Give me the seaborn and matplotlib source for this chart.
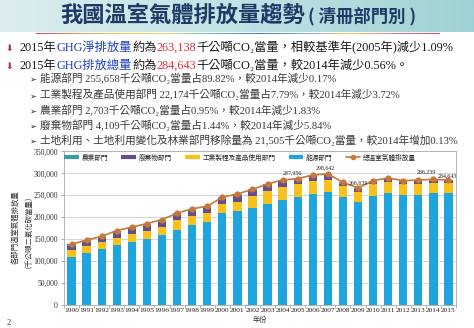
import numpy as np
import matplotlib
matplotlib.use("Agg")
import matplotlib.pyplot as plt
from matplotlib.colors import LinearSegmentedColormap
from matplotlib.lines import Line2D
import seaborn as sns

# ---- data (千公噸CO2當量) ----
years = ["1990", "1991", "1992", "1993", "1994", "1995", "1996", "1997", "1998",
         "1999", "2000", "2001", "2002", "2003", "2004", "2005", "2006", "2007",
         "2008", "2009", "2010", "2011", "2012", "2013", "2014", "2015"]
energy = [109100, 118900, 127300, 135600, 143900, 150800, 159100, 171200, 181500,
          190200, 209100, 213600, 221200, 231100, 239400, 246200, 253000, 256800,
          245500, 234100, 249300, 255300, 251500, 251500, 256093, 255658]
industrial = [16700, 15200, 15900, 18200, 18200, 18900, 19700, 22000, 21200,
              19700, 21200, 22000, 26500, 29500, 30300, 28800, 30300, 28100,
              25000, 22700, 25700, 25000, 24300, 24300, 23031, 22174]
waste = [8100, 8900, 9000, 11300, 10700, 11400, 11400, 11500, 12300,
         11000, 11200, 13600, 12500, 11900, 12000, 9800, 9800, 10700,
         6200, 6900, 5500, 6300, 4700, 6300, 4364, 4109]
agriculture = [4700, 4700, 4600, 4600, 4500, 4500, 4500, 4400, 4300,
               4100, 4000, 3800, 3400, 3300, 3200, 3200, 3100, 3000,
               2900, 2900, 2800, 2800, 2800, 2800, 2753, 2703]
total = [138600, 147700, 156800, 169700, 177300, 185600, 194700, 209100, 219300,
         225000, 245500, 253000, 263600, 275800, 284900, 287956, 296200, 298642,
         279600, 266639, 283300, 289400, 283300, 284900, 286239, 284643]
labeled_years = ["2005", "2007", "2009", "2014", "2015"]

sector_names = ["能源部門", "工業製程及產品使用部門", "廢棄物部門", "農業部門"]
legend_order = ["農業部門", "廢棄物部門", "工業製程及產品使用部門", "能源部門"]
total_name = "總溫室氣體排放量"

C_ENERGY = "#1ea5de"
C_IND = "#f9c11c"
C_WASTE = "#654e8e"
C_AGRI = "#3a9ea5"
C_TOTAL = "#c8773a"
sector_colors = dict(zip(sector_names, [C_ENERGY, C_IND, C_WASTE, C_AGRI]))

sns.set_theme(style="white")
CJK = ["Liberation Serif", "Noto Sans CJK TC", "DejaVu Sans"]
SANS_CJK = ["Noto Sans CJK TC", "DejaVu Sans"]
plt.rcParams["font.family"] = CJK

W, H = 474, 328
fig = plt.figure(figsize=(W / 100, H / 100), dpi=100)
fig.patch.set_facecolor("white")


def fx(px):
    return px / W


def fy(py):
    return 1 - py / H


# ---- header band ----
hdr = fig.add_axes([0, fy(32), 1, 32 / H])
hdr.axis("off")
grad = np.linspace(0, 1, 256)[None, :]
hdr_cmap = LinearSegmentedColormap.from_list("hdr", ["#dcedef", "#c2e2e4", "#9fd2d4"])
hdr.imshow(grad, aspect="auto", cmap=hdr_cmap, extent=[0, 1, 0, 1])
hdr.set_xlim(0, 1)
hdr.set_ylim(0, 1)

bar_ax = fig.add_axes([fx(36), fy(34.5), fx(440) - fx(36), 2 / H])
bar_ax.axis("off")
rb_cmap = LinearSegmentedColormap.from_list(
    "rb", ["#d6437f", "#f0a050", "#f6d23a", "#d8e07a", "#59b8c8", "#3c7fc4",
           "#7fb0d8", "#f2cf55", "#e77a9a", "#d6437f"])
bar_ax.imshow(grad, aspect="auto", cmap=rb_cmap, extent=[0, 1, 0, 1])

renderer = fig.canvas.get_renderer()


def rich(x_px, y_px, pieces, size, family=CJK, **kw):
    x = x_px
    for txt, color in pieces:
        t = fig.text(fx(x), fy(y_px), txt, fontsize=size, color=color,
                     family=family, va="baseline", ha="left", **kw)
        x += t.get_window_extent(renderer=renderer).width
    return x


NAVY = "#1f3a66"
end = rich(60, 21.5, [("我國溫室氣體排放量趨勢", NAVY)], 16, family=SANS_CJK, weight="bold")
rich(end + 3, 21, [("( 清冊部門別 )", NAVY)], 12.5, family=SANS_CJK, weight="bold")

# ---- bullet text ----
DARK = "#1a1a1a"
BLUE = "#1d3fc0"
RED = "#e2303c"
SUB = "#3a3a3a"

for yb in (51, 69):
    fig.text(fx(5), fy(yb), "⬇", fontsize=6.5, color="#a8305a",
             family=["DejaVu Sans"], va="baseline", ha="left")

rich(20, 51, [("2015年", DARK), ("GHG淨排放量", BLUE), ("約為", DARK), ("263,138", RED),
              ("千公噸CO₂當量，相較基準年(2005年)減少1.09%", DARK)], 8.8)
rich(20, 69, [("2015年", DARK), ("GHG排放總量", BLUE), ("約為", DARK), ("284,643", RED),
              ("千公噸CO₂當量，較2014年減少0.56%。", DARK)], 8.8)

sub_lines = [
    "能源部門 255,658千公噸CO₂當量占89.82%，較2014年減少0.17%",
    "工業製程及產品使用部門 22,174千公噸CO₂當量占7.79%，較2014年減少3.72%",
    "農業部門 2,703千公噸CO₂當量占0.95%，較2014年減少1.83%",
    "廢棄物部門 4,109千公噸CO₂當量占1.44%，較2014年減少5.84%",
    "土地利用、土地利用變化及林業部門移除量為 21,505千公噸CO₂當量，較2014年增加0.13%",
]
for yb, line in zip((82, 98.5, 114, 128.5, 143.5), sub_lines):
    fig.text(fx(29), fy(yb), "➢", fontsize=6, color=DARK,
             family=["DejaVu Sans"], va="baseline", ha="left")
    rich(40, yb, [(line, SUB)], 7.7)

# ---- chart ----
ax = fig.add_axes([fx(64), fy(305), fx(456) - fx(64), (305 - 151.4) / H])
stack = np.cumsum([energy, industrial, waste, agriculture], axis=0)
for i in reversed(range(len(sector_names))):
    sns.barplot(x=years, y=stack[i], color=sector_colors[sector_names[i]],
                width=0.55, saturation=1, linewidth=0, errorbar=None, ax=ax, zorder=2)

sns.pointplot(x=years, y=total, color=C_TOTAL, markers="o", markersize=3.6,
              linewidth=1.2, errorbar=None, ax=ax, zorder=4)

label_offsets = {"2005": (-4, 2), "2007": (-2, 2.5), "2009": (0, 2),
                 "2014": (-5, 3.5), "2015": (-0.5, 1.2)}
for yr in labeled_years:
    i = years.index(yr)
    ax.annotate(f"{total[i]:,}", (i, total[i]), xytext=label_offsets[yr],
                textcoords="offset points", ha="center", va="bottom",
                fontsize=4.3, color="#222222", family=CJK, zorder=5)

ax.set_xlim(-0.5, len(years) - 0.5)
ax.set_ylim(0, 350000)
yt = np.arange(0, 350001, 50000)
ax.set_yticks(yt)
ax.set_yticklabels([f"{v:,}" for v in yt])
ax.set_xticks(range(len(years)))
ax.set_xticklabels(years)
ax.set_xticks(np.arange(-0.5, len(years), 1), minor=True)
ax.yaxis.grid(True, color="#d4d4d4", linewidth=0.7)
ax.set_axisbelow(True)
ax.tick_params(axis="x", which="major", length=0, pad=2.5, labelsize=5.3,
               labelcolor="#222222")
ax.tick_params(axis="x", which="minor", length=2.5, width=0.6, color="#a0a0a0",
               direction="out", bottom=True)
ax.tick_params(axis="y", length=2.5, width=0.6, color="#a0a0a0", direction="out",
               left=True, pad=2, labelsize=5.5, labelcolor="#333333")
for s in ax.spines.values():
    s.set_color("#b4b4b4")
    s.set_linewidth(0.7)
ax.set_xlabel("年份", fontsize=5.2, family=SANS_CJK, color="#333333", labelpad=1.5)
ax.set_ylabel("")

fig.text(fx(20), fy(227), "各部門溫室氣體排放量\n（千公噸二氧化碳當量）", rotation=90,
         fontsize=5.3, family=SANS_CJK, color="#333333", ha="center", va="center",
         linespacing=1.25)

handles = []
for name in legend_order:
    handles.append(Line2D([], [], color=sector_colors[name], lw=3, solid_capstyle="butt"))
handles.append(Line2D([], [], color=C_TOTAL, lw=1.2, marker="o", markersize=3))
ax.legend(handles, legend_order + [total_name], loc="center", ncol=5,
          bbox_to_anchor=(fx(240), fy(157.5)), bbox_transform=fig.transFigure,
          frameon=False, prop={"family": SANS_CJK, "size": 4.8},
          handlelength=2.2, handletextpad=0.4, columnspacing=2.0, borderpad=0)

fig.text(fx(7), fy(325), "2", fontsize=6, color="#333333", family=CJK,
         ha="left", va="baseline")

fig.savefig("out.png", dpi=100, facecolor="white")
